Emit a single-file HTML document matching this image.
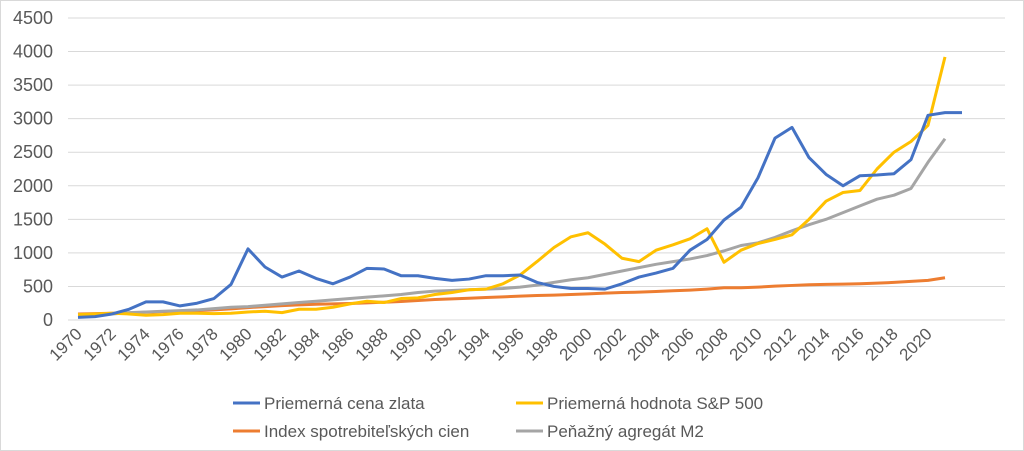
<!DOCTYPE html>
<html><head><meta charset="utf-8"><style>
html,body{margin:0;padding:0;background:#fff;}
svg{display:block;font-family:"Liberation Sans",Arial,sans-serif;}
</style></head><body>
<svg id="c" width="1024" height="451" xmlns="http://www.w3.org/2000/svg">
<rect x="0.5" y="0.5" width="1023" height="450" fill="#fff" stroke="#d9d9d9"/>
<g id="grid"></g><g id="lines"></g>
<g font-size="17" fill="#595959">
<line x1="233" y1="403" x2="260" y2="403" stroke="#4472c4" stroke-width="3"/>
<text x="264" y="409">Priemerná cena zlata</text>
<line x1="516" y1="403" x2="543" y2="403" stroke="#ffc000" stroke-width="3"/>
<text x="547" y="409">Priemerná hodnota S&amp;P 500</text>
<line x1="233" y1="431" x2="260" y2="431" stroke="#ed7d31" stroke-width="3"/>
<text x="264" y="437">Index spotrebiteľských cien</text>
<line x1="516" y1="431" x2="543" y2="431" stroke="#a5a5a5" stroke-width="3"/>
<text x="547" y="437">Peňažný agregát M2</text>
</g>
</svg>
<script>
var NS="http://www.w3.org/2000/svg";
function Y(v){return 320-v*302/4500;}
function X(i){return 78+i*17;}
var g=document.getElementById("grid");
for(var k=0;k<=9;k++){var v=k*500,y=Y(v);
 var l=document.createElementNS(NS,"line");l.setAttribute("x1",68);l.setAttribute("x2",1005);l.setAttribute("y1",y);l.setAttribute("y2",y);l.setAttribute("stroke","#d9d9d9");g.appendChild(l);
 var t=document.createElementNS(NS,"text");t.setAttribute("x",53);t.setAttribute("y",y+6);t.setAttribute("text-anchor","end");t.setAttribute("font-size","18");t.setAttribute("fill","#595959");t.textContent=v;g.appendChild(t);}
for(var yr=1970;yr<=2020;yr+=2){var x=X(yr-1970)+5,y=335;
 var t=document.createElementNS(NS,"text");t.setAttribute("transform","translate("+x+","+y+") rotate(-45)");t.setAttribute("text-anchor","end");t.setAttribute("font-size","17");t.setAttribute("fill","#595959");t.textContent=yr;g.appendChild(t);}
var gold=[40,50,90,160,270,270,210,250,320,530,1060,790,640,730,620,540,640,770,760,660,660,620,590,610,660,660,670,560,500,470,470,460,540,640,700,770,1040,1200,1490,1680,2120,2710,2870,2420,2170,2000,2150,2160,2180,2390,3050,3090,3090];
var sp=[80,90,100,90,70,80,100,100,95,100,120,130,110,160,160,190,240,280,260,320,330,380,410,450,460,540,670,870,1080,1240,1300,1130,920,870,1040,1120,1210,1360,860,1040,1140,1200,1270,1500,1770,1900,1930,2250,2500,2660,2900,3920];
var m2=[80,80,90,110,120,130,140,150,170,190,200,220,240,260,280,300,320,340,360,380,410,430,440,450,460,470,490,520,560,600,630,680,730,780,830,870,910,960,1030,1110,1150,1230,1330,1420,1500,1600,1700,1800,1860,1960,2350,2700];
var cp=[90,95,100,105,115,125,135,140,150,165,185,200,215,225,235,240,245,255,265,275,290,305,315,325,335,345,355,365,370,380,390,400,410,415,425,435,445,460,480,480,490,505,515,525,530,535,540,550,560,575,590,630];
function line(d,c){var p=d.map(function(v,i){return X(i)+","+Y(v)}).join(" ");
 var e=document.createElementNS(NS,"polyline");e.setAttribute("points",p);e.setAttribute("fill","none");e.setAttribute("stroke",c);e.setAttribute("stroke-width","3");e.setAttribute("stroke-linejoin","round");document.getElementById("lines").appendChild(e);}
line(cp,"#ed7d31");line(m2,"#a5a5a5");line(sp,"#ffc000");line(gold,"#4472c4");
</script>
</body></html>
